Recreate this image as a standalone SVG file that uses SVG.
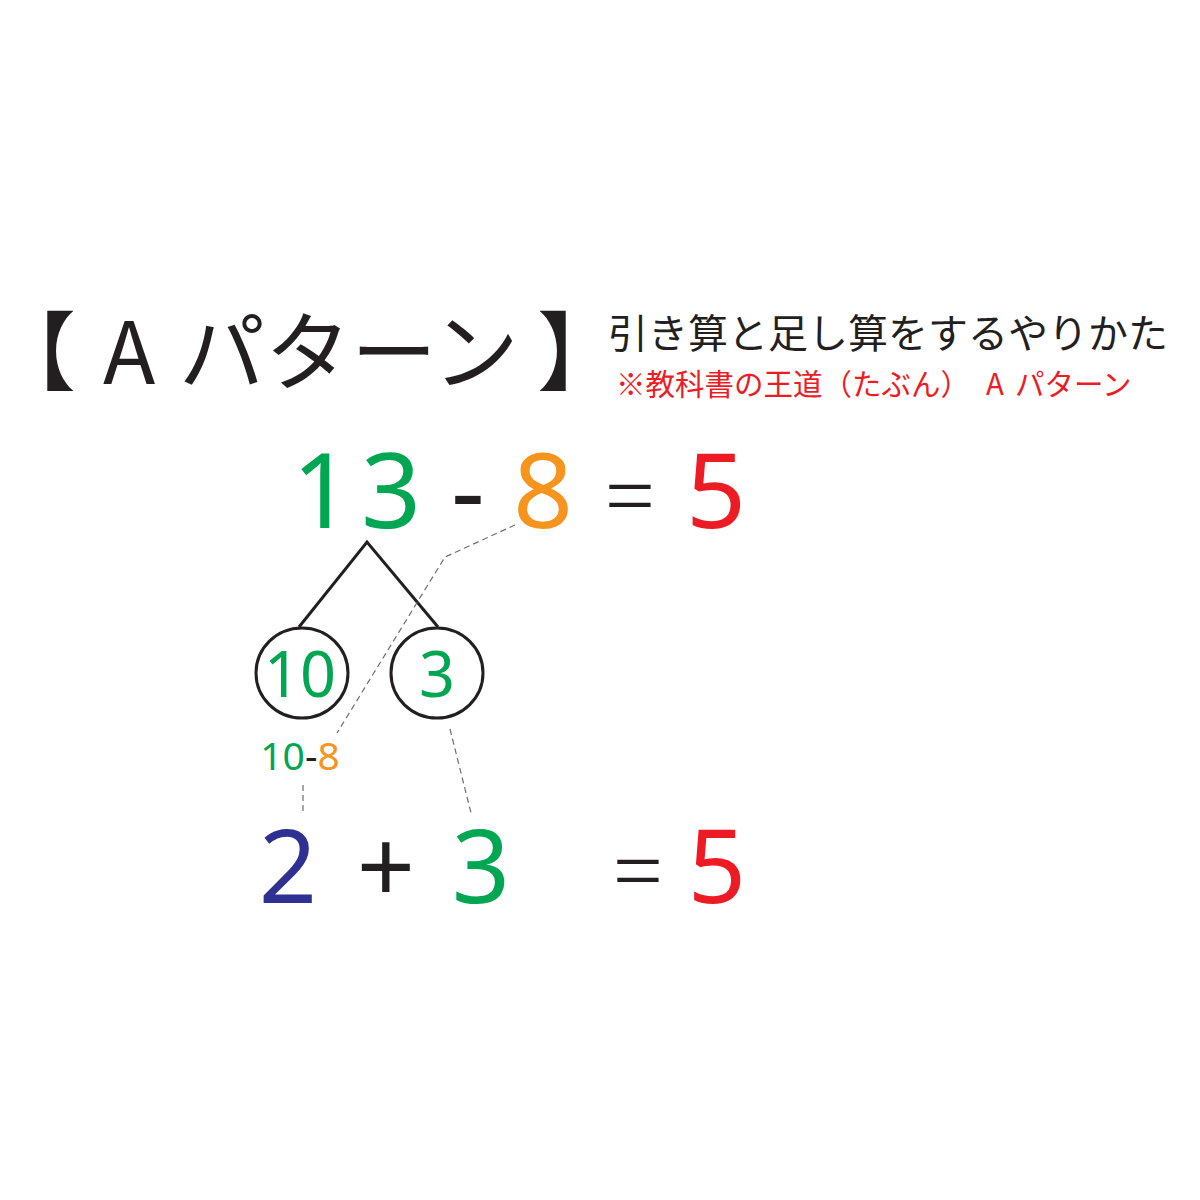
<svg xmlns="http://www.w3.org/2000/svg" width="1200" height="1200" viewBox="0 0 1200 1200">
<style>
.jp{font-family:"Noto Sans CJK JP","Noto Sans",sans-serif;}
.palt{font-feature-settings:"palt" 1;}
.num{font-family:"Noto Sans","Open Sans",sans-serif;text-anchor:middle;}
.g{fill:#00a651}.o{fill:#f7941d}.r{fill:#ed1c24}.b{fill:#2e3192}.k{fill:#231f20}
.eq{font-weight:300}
.tree{stroke:#231f20;stroke-width:3;fill:none}
.dash{stroke:#6d6e71;stroke-width:1.2;fill:none;stroke-dasharray:6 4}
.circ{stroke:#231f20;stroke-width:3;fill:#fff}
</style>
<rect width="1200" height="1200" fill="#fff"/>
<g id="title">
<text class="jp k palt" font-size="86" x="31" y="384">【</text>
<text class="jp k" font-size="86" y="384"><tspan x="103">A</tspan><tspan x="179">パターン</tspan><tspan x="537">】</tspan></text>
</g>
<g id="subtitle">
<text class="jp k" font-size="40" x="608" y="348">引き算と足し算をするやりかた</text>
<text class="jp r" font-size="29.5" y="395"><tspan x="616">※教科書の王道（たぶん）</tspan><tspan x="986">A</tspan><tspan x="1015">パターン</tspan></text>
</g>
<g id="connectors">
<polyline class="tree" points="299,627 367,542 438,627"/>
<polyline class="dash" points="515,525 445,557 337,733"/>
<line class="dash" x1="303" y1="785" x2="303" y2="815"/>
<line class="dash" x1="450" y1="729" x2="471" y2="813"/>
</g>
<g id="equation-top">
<text class="num g" font-size="105" x="322" y="528">1</text>
<text class="num g" font-size="105" x="391" y="528">3</text>
<text class="num k" font-size="105" x="468" y="528">-</text>
<text class="num o" font-size="105" x="543" y="528">8</text>
<text class="num k eq" font-size="90" x="630" y="528">=</text>
<text class="num r" font-size="105" x="716" y="528">5</text>
</g>
<g id="node-10">
<ellipse class="circ" cx="302" cy="673" rx="46" ry="45"/>
<text class="num g" font-size="63" x="300" y="697">10</text>
</g>
<g id="node-3">
<ellipse class="circ" cx="437" cy="673" rx="46" ry="45"/>
<text class="num g" font-size="63" x="437" y="697">3</text>
</g>
<g id="label-10-8">
<text class="num" font-size="39" x="300" y="770"><tspan class="g">10</tspan><tspan class="k">-</tspan><tspan class="o">8</tspan></text>
</g>
<g id="equation-bottom">
<text class="num b" font-size="102" x="288" y="903">2</text>
<text class="num k" font-size="102" x="386" y="903">+</text>
<text class="num g" font-size="102" x="481" y="903">3</text>
<text class="num k eq" font-size="90" x="638" y="903">=</text>
<text class="num r" font-size="102" x="717" y="903">5</text>
</g>
</svg>
